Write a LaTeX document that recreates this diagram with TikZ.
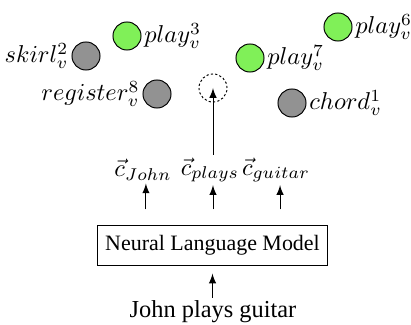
\documentclass[tikz,border=0pt]{standalone}
\usepackage[no-math]{fontspec}
\setmainfont{Liberation Serif}
\usepackage{amsmath}
\usetikzlibrary{positioning}
\usetikzlibrary{shapes,arrows}

\definecolor{wordgreen}{RGB}{128,240,88}
\definecolor{wordgray}{RGB}{146,146,146}

\tikzset{
  word/.style={circle, draw, fill=wordgray, minimum size=11.5pt, inner sep=0pt},
  playword/.style={word, fill=wordgreen},
  wordtag/.style={inner sep=0.5pt},
}

\begin{document}
\begin{tikzpicture}[x=0.41pt, y=-0.41pt, >=latex]
\useasboundingbox (0, 0) rectangle (411, 325);

% word space

\node [playword] at (127, 36) (play3) {};
\node [wordtag, right=0.5pt of play3] (play3l) {$play_v^3$};
\node [word] at (86, 56) (skirl2) {};
\node [wordtag, left=0.5pt of skirl2] (skirl2l) {$skirl_v^2$};
\node [word] at (157, 94) (register8) {};
\node [wordtag, left=0.5pt of register8] (register8l) {$register_v^8$};
\node [playword] at (250, 58) (play7) {};
\node [wordtag, right=0.5pt of play7] (play7l) {$play_v^7$};
\node [playword] at (338, 27) (play6) {};
\node [wordtag, right=0.5pt of play6] (play6l) {$play_v^6$};
\node [word] at (292, 103) (chord1) {};
\node [wordtag, right=0.5pt of chord1] (chord1l) {$chord_v^1$};

\node [circle, draw, dash pattern=on 0.9pt off 0.9pt, minimum size=11.5pt, inner sep=0pt] at (213, 88) (target) {};

% context vectors

\node [inner sep=1pt] at (143, 170) (cjohn) {$\vec{c}_{John}$};
\node [inner sep=1pt] at (210, 170) (cplays) {$\vec{c}_{plays}$};
\node [inner sep=1pt] at (276, 170) (cguitar) {$\vec{c}_{guitar}$};

\path [draw, ->] (cplays.north -| target) to (target.center);

% model

\node [draw, minimum width=93.9pt, minimum height=16.4pt, font=\fontsize{9}{11}\selectfont] at (212.5, 245) (nlm) {Neural Language Model};
\node [inner sep=1pt] at (213, 312) (input) {John plays guitar};

\path [draw, ->, shorten <=6.2pt] ([xshift=-27.3pt]nlm.north) to ([xshift=-27.3pt]nlm.north |- cjohn.south);
\path [draw, ->, shorten <=6.2pt] ([xshift=0.2pt]nlm.north) to ([xshift=0.2pt]nlm.north |- cplays.south);
\path [draw, ->, shorten <=6.2pt] ([xshift=27.7pt]nlm.north) to ([xshift=27.7pt]nlm.north |- cguitar.south);
\path [draw, ->, shorten >=3.3pt] (input.north -| nlm.south) to (nlm.south);

\end{tikzpicture}
\end{document}
